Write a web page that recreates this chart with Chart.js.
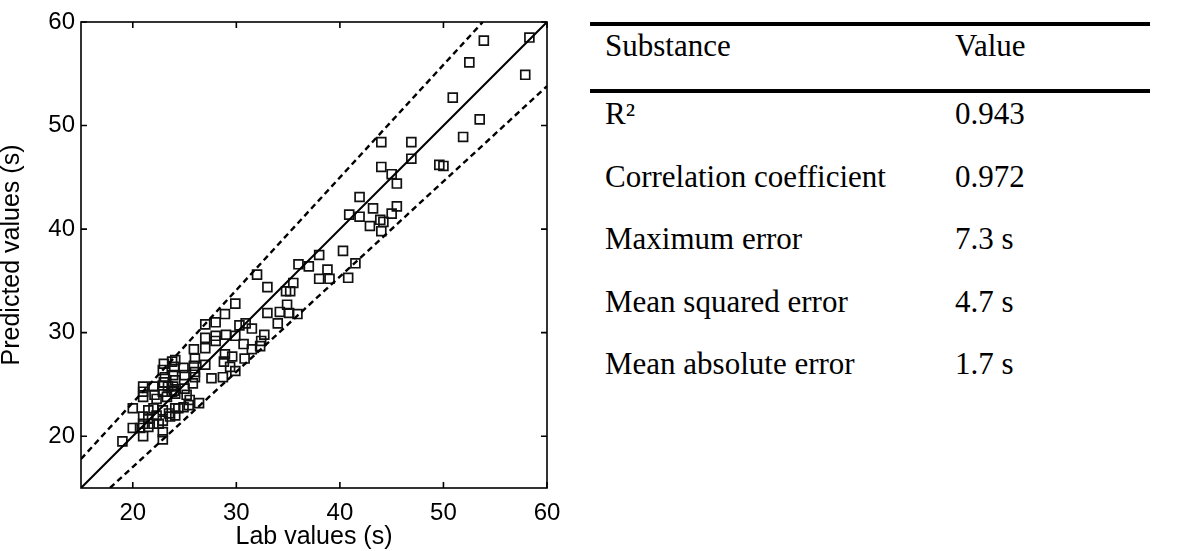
<!DOCTYPE html>
<html>
<head>
<meta charset="utf-8">
<script src="https://cdn.jsdelivr.net/npm/chart.js@4/dist/chart.umd.min.js"></script>
<style>
  html, body { margin: 0; padding: 0; background: #fff; }
  body { width: 1193px; height: 551px; position: relative; overflow: hidden; }
  #plotBox { position: absolute; left: 0; top: 0; width: 575px; height: 551px; }
  .rule { position: absolute; left: 590px; width: 560px; height: 4px; background: #000; }
  .cell {
    position: absolute; white-space: nowrap;
    font-family: "Liberation Serif", "Times New Roman", serif;
    font-size: 31px; line-height: 31px; color: #000;
  }
</style>
</head>
<body>
<div id="plotBox"><canvas id="chart"></canvas></div>
<div id="stats"></div>
<script>
"use strict";

// lab (x) and predicted (y) values, in seconds
let labValues = [
  58.3, 57.9, 53.9, 52.5, 50.9, 53.5, 51.9, 44.0, 46.9, 46.9,
  44.0, 49.6, 50.0, 45.0, 45.5, 41.9, 43.2, 45.5, 40.9, 41.9,
  45.0, 43.9, 44.2, 42.9, 44.0, 40.3, 38.0, 36.0, 37.0, 38.8,
  41.5, 38.0, 39.0, 40.8, 35.5, 34.8, 35.2, 34.9, 34.2, 35.1,
  35.9, 32.0, 33.0, 29.9, 28.9, 33.0, 34.0, 27.0, 28.0, 30.3,
  30.9, 31.5, 27.0, 28.0, 28.0, 29.0, 29.9, 30.7, 31.5, 32.4,
  32.3, 32.7, 25.9, 27.0, 26.0, 25.9, 27.0, 28.9, 29.6, 28.8,
  29.4, 29.9, 30.8, 27.6, 28.7, 22.9, 23.8, 24.1, 23.1, 23.9,
  24.1, 24.9, 25.0, 26.0, 25.8, 21.0, 21.0, 21.0, 22.0, 22.1,
  22.3, 22.9, 22.9, 23.4, 23.8, 23.9, 24.1, 23.3, 25.2, 25.5,
  26.4, 20.0, 21.5, 22.0, 22.9, 24.1, 24.1, 24.4, 24.9, 25.4,
  21.0, 21.5, 22.0, 22.5, 22.9, 23.6, 20.0, 20.7, 21.0, 21.0,
  21.5, 22.9, 22.9, 19.0, 23.0, 24.0, 23.0, 24.0, 26.0, 25.0,
  23.5, 22.3
];
let predictedValues = [
  58.5, 54.9, 58.2, 56.1, 52.7, 50.6, 48.9, 48.4, 48.4, 46.8,
  46.0, 46.2, 46.1, 45.3, 44.4, 43.1, 42.0, 42.2, 41.4, 41.2,
  41.5, 40.9, 40.7, 40.3, 39.8, 37.9, 37.5, 36.6, 36.4, 36.1,
  36.7, 35.2, 35.2, 35.3, 34.8, 34.0, 34.0, 32.7, 32.0, 31.9,
  31.8, 35.6, 34.4, 32.8, 31.8, 31.9, 30.9, 30.8, 31.0, 30.7,
  30.9, 30.4, 29.5, 29.7, 29.2, 29.8, 29.7, 28.9, 28.4, 29.2,
  28.7, 29.8, 28.4, 28.5, 27.5, 26.8, 26.9, 27.9, 27.7, 27.2,
  26.7, 26.3, 27.5, 25.6, 25.7, 26.4, 27.2, 27.35, 25.7, 25.9,
  25.4, 26.6, 25.9, 25.7, 25.1, 24.8, 24.3, 23.8, 24.8, 24.0,
  23.6, 24.9, 24.3, 24.8, 24.3, 24.8, 24.1, 23.8, 24.0, 23.5,
  23.2, 22.7, 22.5, 22.7, 22.5, 22.7, 22.0, 22.7, 22.8, 23.0,
  21.9, 21.7, 21.2, 21.2, 21.5, 21.9, 20.8, 20.8, 21.2, 20.0,
  20.9, 20.4, 19.7, 19.5, 27.0, 26.7, 25.2, 24.4, 26.2, 24.6,
  22.2, 22.0
];

// reference lines: perfect fit and the two error bounds
let idealLine = [[15, 15], [60, 60]];
let upperBound = [[15, 17.8], [53.8, 60]];
let lowerBound = [[17.8, 15], [60, 53.8]];

let axisMin = 15;
let axisMax = 60;
let tickValues = [20, 30, 40, 50, 60];

let statNames = ["R\u00b2", "Correlation coefficient", "Maximum error", "Mean squared error", "Mean absolute error"];
let statValues = ["0.943", "0.972", "7.3 s", "4.7 s", "1.7 s"];
let tableHeader = ["Substance", "Value"];

function toPoints(xs, ys) {
  let pts = [];
  for (let i = 0; i < xs.length; i++) {
    pts.push({ x: xs[i], y: ys[i] });
  }
  return pts;
}

function pairs(list) {
  return list.map(p => ({ x: p[0], y: p[1] }));
}

// stats table: two heavy rules round the header, then one row per measure
function fillTable() {
  let box = document.getElementById("stats");
  let colX = [605, 955];
  let addCell = (text, x, baseline) => {
    let d = document.createElement("div");
    d.className = "cell";
    d.textContent = text;
    d.style.left = x + "px";
    d.style.top = (baseline - 26) + "px";
    box.appendChild(d);
  };
  for (let top of [22, 89]) {
    let r = document.createElement("div");
    r.className = "rule";
    r.style.top = top + "px";
    box.appendChild(r);
  }
  tableHeader.forEach((h, i) => addCell(h, colX[i], 56));
  for (let i = 0; i < statNames.length; i++) {
    let baseline = 124 + i * 62.5;
    addCell(statNames[i], colX[0], baseline);
    addCell(statValues[i], colX[1], baseline);
  }
}

// frame around the plot area with inward ticks on all four sides
const boxTicks = {
  id: "boxTicks",
  afterDraw(chart) {
    let ctx = chart.ctx;
    let area = chart.chartArea;
    let xs = chart.scales.x;
    let ys = chart.scales.y;
    let len = 6;
    ctx.save();
    ctx.strokeStyle = "#000";
    ctx.lineWidth = 1.6;
    ctx.strokeRect(area.left, area.top, area.right - area.left, area.bottom - area.top);
    ctx.beginPath();
    for (let v of tickValues) {
      let px = xs.getPixelForValue(v);
      ctx.moveTo(px, area.bottom);
      ctx.lineTo(px, area.bottom - len);
      ctx.moveTo(px, area.top);
      ctx.lineTo(px, area.top + len);
      let py = ys.getPixelForValue(v);
      ctx.moveTo(area.left, py);
      ctx.lineTo(area.left + len, py);
      ctx.moveTo(area.right, py);
      ctx.lineTo(area.right - len, py);
    }
    ctx.stroke();
    ctx.restore();
  }
};

function fixedTicks(scale) {
  scale.ticks = tickValues.map(v => ({ value: v }));
}

function renderChart() {
  let tickFont = { family: "'Liberation Sans', Arial, sans-serif", size: 24 };
  let titleFont = { family: "'Liberation Sans', Arial, sans-serif", size: 25, lineHeight: 1.0 };
  let lineStyle = { type: "line", showLine: true, pointRadius: 0, borderColor: "#000", fill: false };

  new Chart(document.getElementById("chart"), {
    type: "scatter",
    data: {
      datasets: [
        Object.assign({ label: "ideal", data: pairs(idealLine), borderWidth: 2 }, lineStyle),
        Object.assign({ label: "upper", data: pairs(upperBound), borderWidth: 2.4, borderDash: [6, 4] }, lineStyle),
        Object.assign({ label: "lower", data: pairs(lowerBound), borderWidth: 2.4, borderDash: [6, 4] }, lineStyle),
        {
          label: "samples",
          data: toPoints(labValues, predictedValues),
          pointStyle: "rect",
          pointRadius: 6.3,
          pointBorderWidth: 1.7,
          pointBorderColor: "#111",
          pointBackgroundColor: "rgba(0,0,0,0)"
        }
      ]
    },
    options: {
      responsive: true,
      maintainAspectRatio: false,
      animation: false,
      layout: { padding: { top: 22, right: 28, left: 0, bottom: 0 } },
      plugins: { legend: { display: false }, tooltip: { enabled: false } },
      scales: {
        x: {
          type: "linear",
          min: axisMin,
          max: axisMax,
          afterBuildTicks: fixedTicks,
          afterFit: s => { s.height = 63; },
          grid: { display: false, drawTicks: false },
          border: { display: false },
          ticks: { color: "#000", font: tickFont, padding: 11, maxRotation: 0 },
          title: { display: true, text: "Lab values (s)", color: "#000", font: titleFont, padding: { top: 0, bottom: 1 } }
        },
        y: {
          type: "linear",
          min: axisMin,
          max: axisMax,
          afterBuildTicks: fixedTicks,
          afterFit: s => { s.width = 81; },
          grid: { display: false, drawTicks: false },
          border: { display: false },
          ticks: { color: "#000", font: tickFont, padding: 6 },
          title: { display: true, text: "Predicted values (s)", color: "#000", font: titleFont, padding: { top: 0, bottom: 8 } }
        }
      }
    },
    plugins: [boxTicks]
  });
}

fillTable();
renderChart();
</script>
</body>
</html>
